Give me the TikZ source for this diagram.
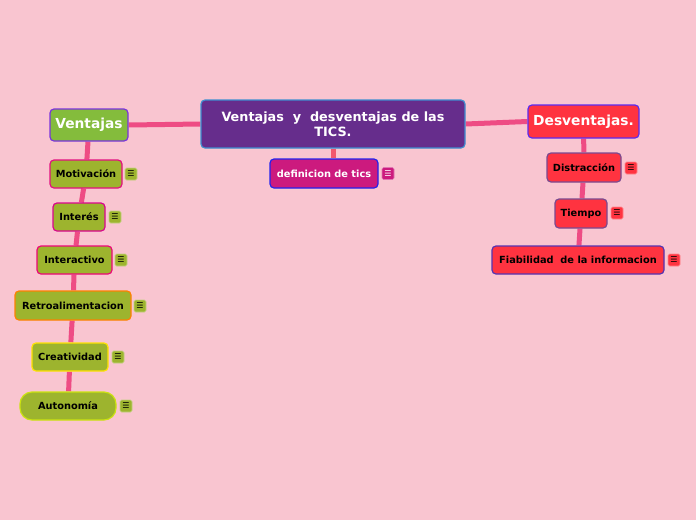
\documentclass[tikz,border=0pt]{standalone}
\usepackage{fontspec}
\setmainfont{DejaVu Sans}
\usepackage{xcolor}
\usetikzlibrary{positioning,backgrounds}

\definecolor{bgpink}{HTML}{F9C5D0}
\definecolor{linkpink}{HTML}{EE4C84}
\definecolor{linkred}{HTML}{F2566E}
\definecolor{titlepurple}{HTML}{662D8C}
\definecolor{titleedge}{HTML}{3F8FD0}
\definecolor{defmag}{HTML}{CC1A7E}
\definecolor{defedge}{HTML}{2222EE}
\definecolor{vgreen}{HTML}{84BC3C}
\definecolor{vedge}{HTML}{7A33DD}
\definecolor{olive}{HTML}{9DB42E}
\definecolor{dred}{HTML}{FF3340}
\definecolor{dedge}{HTML}{5B2BF0}
\definecolor{subedge}{HTML}{7A4A90}

\begin{document}
\begin{tikzpicture}[
  x=1pt, y=-1pt,
  font=\bfseries,
  topic/.style={draw, line width=1.2pt, rounded corners=4pt, align=center,
                inner sep=2pt, text=white, font=\bfseries\fontsize{13.8}{15}\selectfont},
  sub/.style={draw, line width=1.2pt, rounded corners=4pt, align=center,
              inner sep=2pt, font=\bfseries\fontsize{9.8}{11}\selectfont},
  note/.style={draw, line width=0.6pt, rounded corners=1.5pt, minimum size=12pt,
               inner sep=0pt, font=\fontsize{8}{8}\selectfont},
  link/.style={line width=5pt, linkpink}
]
% central topic
\node[topic, fill=titlepurple, draw=titleedge, minimum width=264pt, minimum height=48pt,
      font=\bfseries\fontsize{12.8}{15}\selectfont]
  (main) at (333,124) {Ventajas\ \ y\ \ desventajas de las\\TICS.};
\node[sub, fill=defmag, draw=defedge, text=white, minimum width=108pt, minimum height=29pt]
  (defn) at (324,173.5) {definicion de tics};
\node[note, fill=defmag, draw=defmag!60!white, text=white] (defnote) at (388,173.5) {☰};

% Ventajas column
\node[topic, fill=vgreen, draw=vedge, minimum width=78pt, minimum height=32pt]
  (vent) at (89,125) {Ventajas};
\node[sub, fill=olive, draw=magenta!80!purple, minimum width=72pt, minimum height=28pt]
  (motiv) at (86,174) {Motivación};
\node[sub, fill=olive, draw=magenta!90!blue, minimum width=52pt, minimum height=28pt]
  (inter) at (79,217) {Interés};
\node[sub, fill=olive, draw=magenta!80!red, minimum width=75pt, minimum height=28pt]
  (interac) at (74.5,260) {Interactivo};
\node[sub, fill=olive, draw=orange, minimum width=116pt, minimum height=29pt]
  (retro) at (73,305.5) {Retroalimentacion};
\node[sub, fill=olive, draw=yellow!85!orange, minimum width=76pt, minimum height=28pt]
  (creat) at (70,357) {Creatividad};
\node[sub, fill=olive, draw=yellow!80!green, rounded corners=12pt, minimum width=96pt, minimum height=28pt]
  (auton) at (68,406) {Autonomía};

\foreach \n/\x/\y in {motiv/131/174, inter/115/217, interac/121/260,
                      retro/140/306, creat/118/357, auton/126/406}
  \node[note, fill=olive, draw=olive!60!white] (\n note) at (\x,\y) {☰};

% Desventajas column
\node[topic, fill=dred, draw=dedge, minimum width=111pt, minimum height=33pt]
  (desv) at (583.5,121.5) {Desventajas.};
\node[sub, fill=dred, draw=subedge, minimum width=74pt, minimum height=29pt]
  (distr) at (584,167.5) {Distracción};
\node[sub, fill=dred, draw=subedge, minimum width=52pt, minimum height=29pt]
  (tiempo) at (581,213.5) {Tiempo};
\node[sub, fill=dred, draw=subedge!70!blue, minimum width=172pt, minimum height=28pt]
  (fiab) at (578,260) {Fiabilidad\ \ de la informacion};

\foreach \n/\x/\y in {distr/631/168, tiempo/617/213, fiab/674/260}
  \node[note, fill=dred, draw=dred!60!white] (\n note) at (\x,\y) {☰};

% links
\begin{scope}[on background layer]
\fill[bgpink] (0,0) rectangle (696,520);
\draw[link] (main.west) -- (vent.east);
\draw[link] (main.east) -- (desv.west);
\draw[link, linkred] (main.south) -- (defn.north -| main.south);
\draw[link] (vent) -- (motiv);
\draw[link] (motiv) -- (inter);
\draw[link] (inter) -- (interac);
\draw[link] (interac) -- (retro);
\draw[link] (retro) -- (creat);
\draw[link] (creat) -- (auton);
\draw[link] (desv) -- (distr);
\draw[link] (distr) -- (tiempo);
\draw[link] (tiempo) -- (fiab);
\end{scope}
\end{tikzpicture}
\end{document}
